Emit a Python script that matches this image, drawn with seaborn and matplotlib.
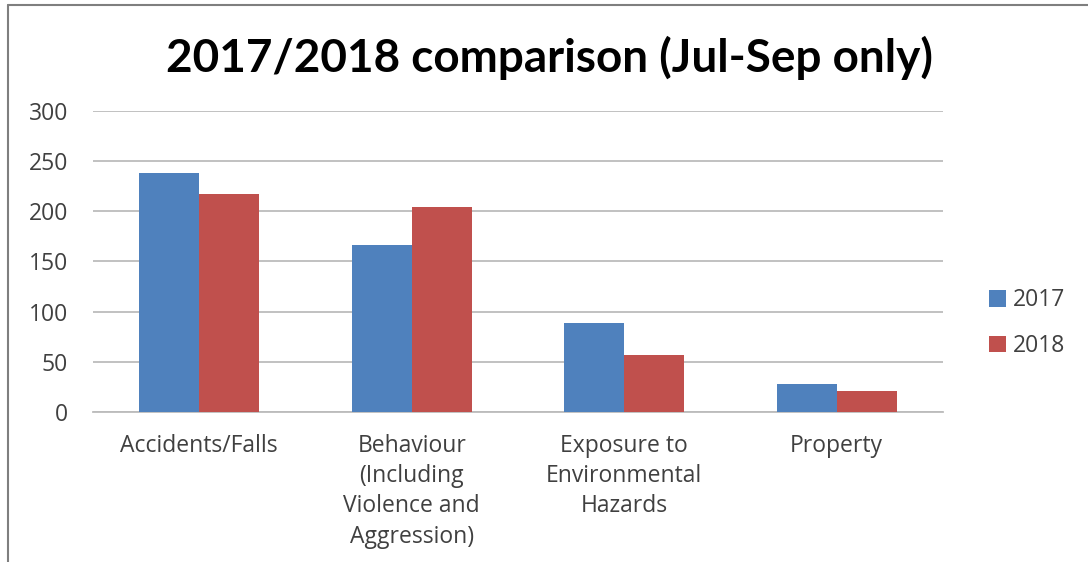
import matplotlib
matplotlib.use("Agg")
import matplotlib.pyplot as plt
import seaborn as sns
import pandas as pd
from matplotlib.lines import Line2D
from matplotlib.patches import Patch

categories = ["Accidents/Falls",
              "Behaviour\n(Including\nViolence and\nAggression)",
              "Exposure to\nEnvironmental\nHazards",
              "Property"]
series_names = ["2017", "2018"]
values_2017 = [238, 166, 89, 28]
values_2018 = [217, 204, 57, 21]
yticks = [0, 50, 100, 150, 200, 250, 300]

df = pd.DataFrame({
    "category": categories * 2,
    "year": [series_names[0]] * 4 + [series_names[1]] * 4,
    "value": values_2017 + values_2018,
})

sns.set_theme(style="white")
plt.rcParams['font.family'] = ['Open Sans', 'DejaVu Sans']

fig = plt.figure(figsize=(10.88, 5.62), dpi=100)
ax = fig.add_axes([0.0855, 0.267, 0.7812, 0.536])

colors = {"2017": "#4F81BD", "2018": "#C0504D"}
sns.barplot(data=df, x="category", y="value", hue="year", palette=colors,
            width=0.565, gap=0, saturation=1, ax=ax, legend=False,
            edgecolor="none", linewidth=0, zorder=3)

ax.set_ylim(0, 300)
ax.set_yticks(yticks)
ax.set_xlim(-0.5, 3.5)
ax.yaxis.grid(True, color="#bcbcbc", linewidth=1.3, zorder=0)
ax.set_axisbelow(True)
for s in ["left", "right", "top"]:
    ax.spines[s].set_visible(False)
ax.spines["bottom"].set_color("#bcbcbc")
ax.spines["bottom"].set_linewidth(1.3)
ax.set_xlabel("")
ax.set_ylabel("")
ax.tick_params(axis="y", length=0, pad=18, labelsize=16.5, labelcolor="#404040")
ax.tick_params(axis="x", length=0, pad=16, labelsize=16.5, labelcolor="#404040")
for lbl in ax.get_xticklabels():
    lbl.set_linespacing(1.34)
    lbl.set_verticalalignment("top")

fig.text(0.505, 0.897, "2017/2018 comparison (Jul-Sep only)", ha="center", va="center",
         fontsize=33, fontweight="bold", color="#000000", family=["Lato", "DejaVu Sans"])

handles = [Patch(facecolor=colors[n], edgecolor="none") for n in series_names]
fig.legend(handles, series_names, loc="center left", bbox_to_anchor=(0.89, 0.425),
           frameon=False, fontsize=16.5, handlelength=0.75, handleheight=0.75,
           handletextpad=0.3, labelspacing=0.95, labelcolor="#404040")

# outer frame lines (top and left)
fig.add_artist(Line2D([0.007, 1.0], [0.991, 0.991], transform=fig.transFigure,
                      color="#7f7f7f", linewidth=1.5))
fig.add_artist(Line2D([0.0075, 0.0075], [0.0, 0.991], transform=fig.transFigure,
                      color="#7f7f7f", linewidth=1.5))

fig.savefig("out.png", dpi=100, facecolor="white")
